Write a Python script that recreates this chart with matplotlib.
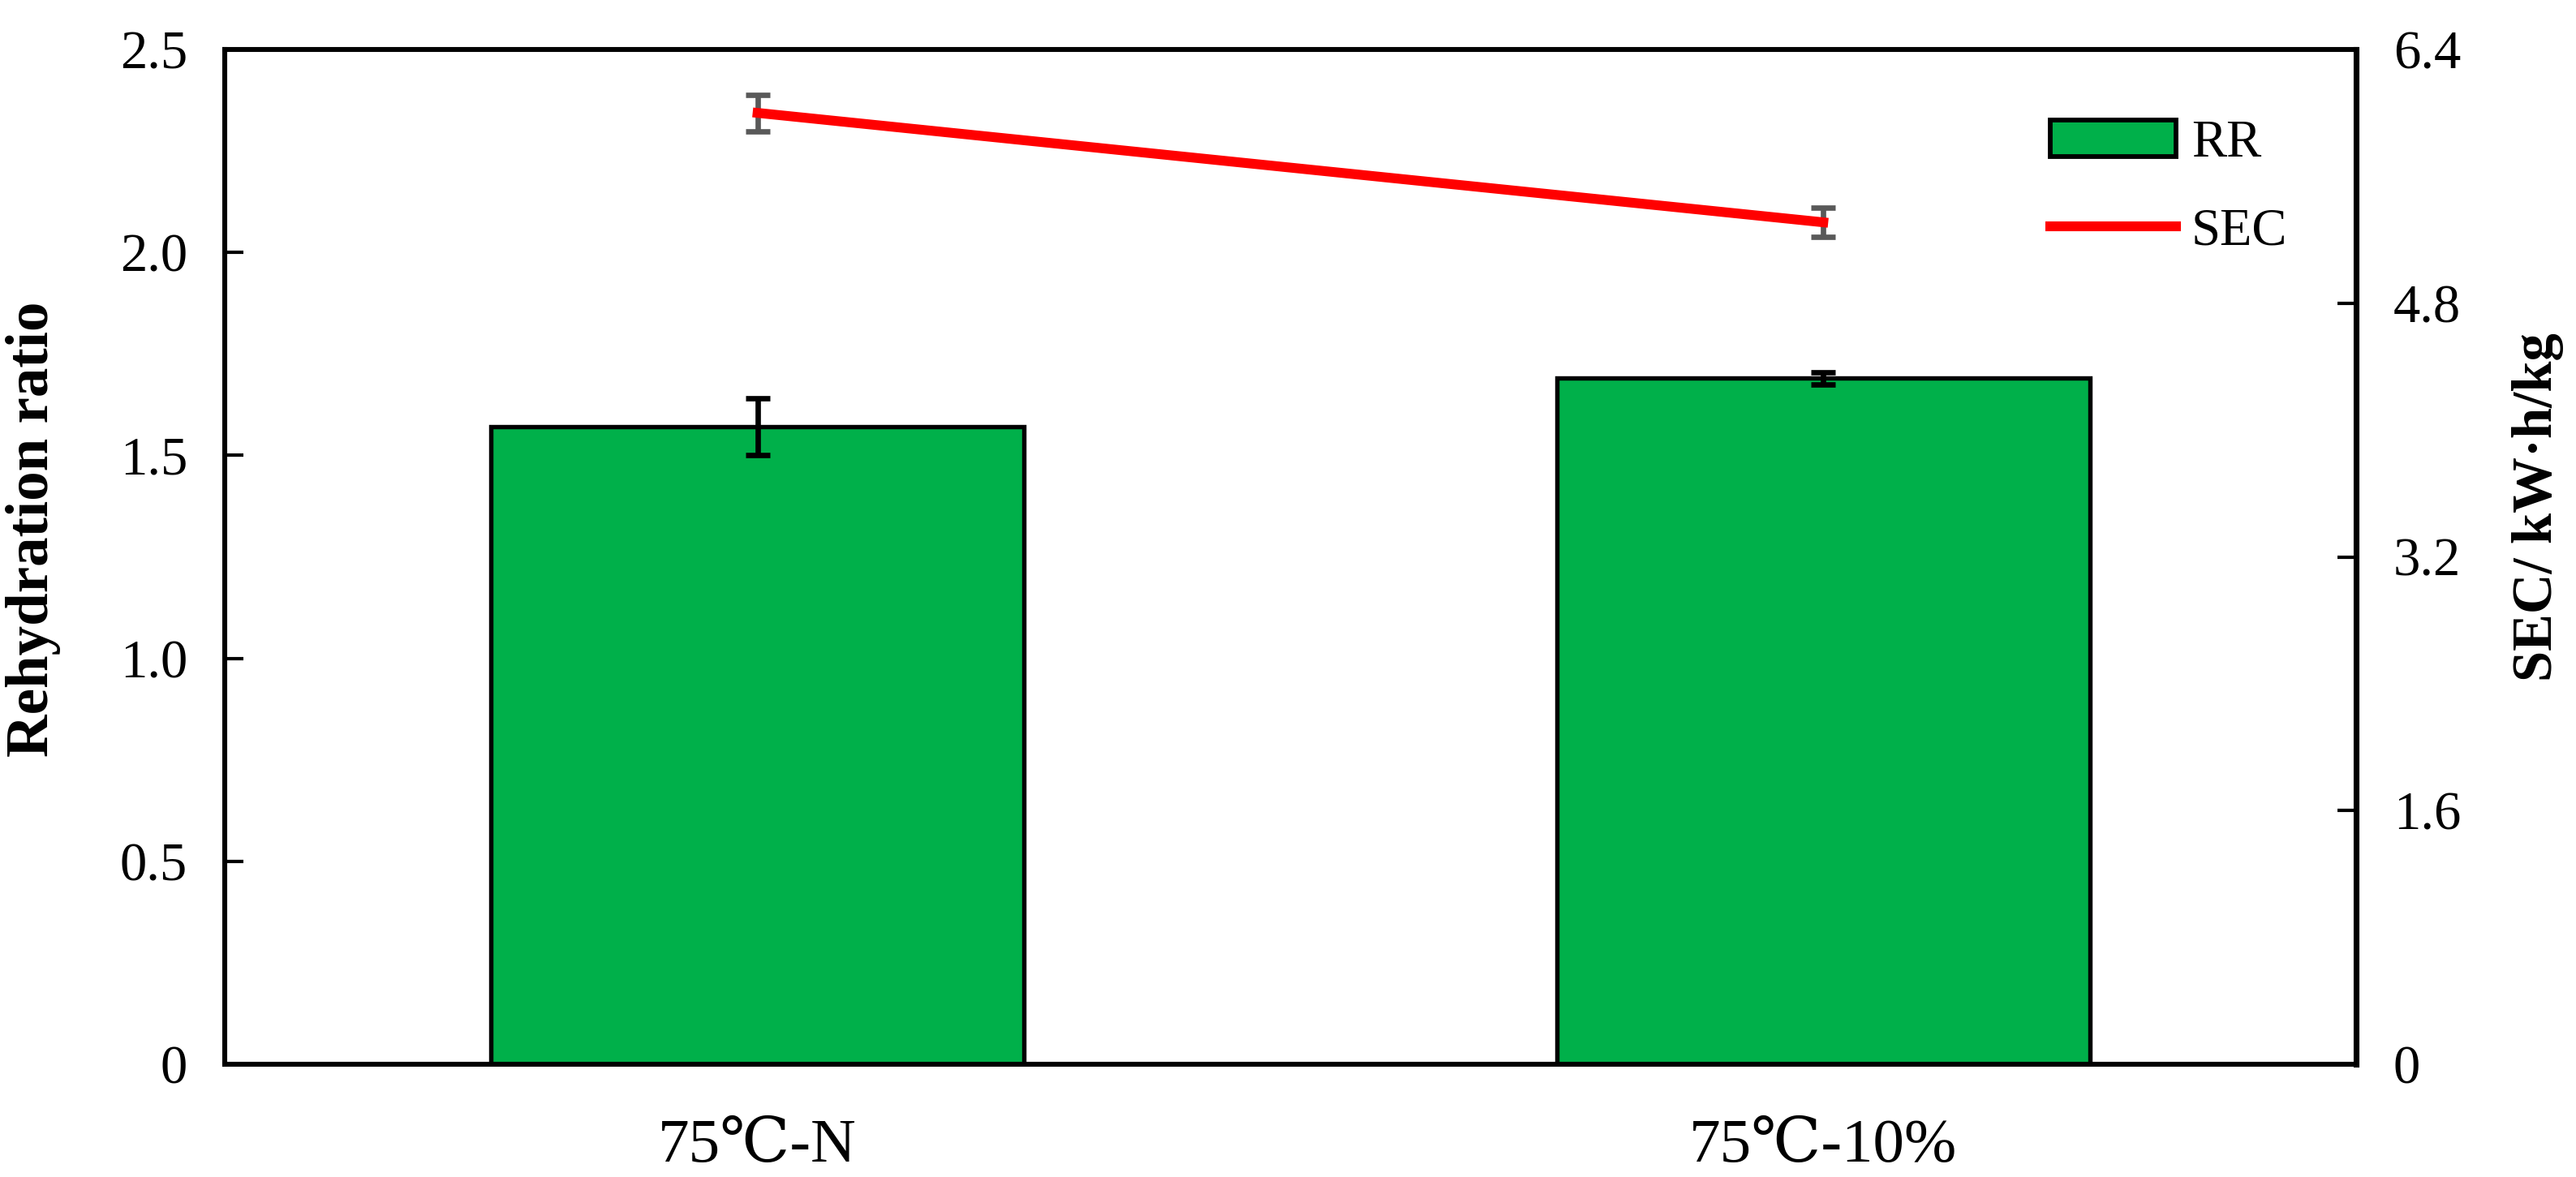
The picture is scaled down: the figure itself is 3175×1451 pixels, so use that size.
import matplotlib
matplotlib.use("Agg")
import matplotlib.pyplot as plt
import numpy as np

categories = ["75℃-N", "75℃-10%"]
rr_values = [1.57, 1.69]
rr_errors = [0.07, 0.015]
sec_values = [6.0, 5.31]
sec_errors = [0.115, 0.09]

plt.rcParams['font.family'] = ['Liberation Serif', 'DejaVu Serif']

fig = plt.figure(figsize=(3175/300, 1451/300), dpi=300)
ax = fig.add_axes([277/3175, 1 - 1312/1451, (2904-277)/3175, (1312-61)/1451])
x = np.arange(len(categories))

bars = ax.bar(x, rr_values, width=0.5, color='#00B04A', edgecolor='black', linewidth=1.3,
              label='RR', zorder=2)
ax.errorbar(x, rr_values, yerr=rr_errors, fmt='none', ecolor='black', elinewidth=1.6,
            capsize=3.7, capthick=1.6, zorder=3)
ax.set_xlim(-0.5, 1.5)
ax.set_ylim(0, 2.5)
ax.set_yticks([0, 0.5, 1.0, 1.5, 2.0, 2.5])
ax.set_yticklabels(['0', '0.5', '1.0', '1.5', '2.0', '2.5'])
ax.set_xticks(x)
ax.set_xticklabels(categories, fontsize=18.5)
ax.tick_params(axis='x', length=0, pad=16)
ax.tick_params(axis='y', direction='in', length=5.5, width=1.0, labelsize=16, pad=11)
ax.set_ylabel('Rehydration ratio', fontsize=17.5, fontweight='bold')
ax.yaxis.set_label_coords(-0.077, 0.527)
for s in ax.spines.values():
    s.set_linewidth(1.45)

ax2 = ax.twinx()
line, = ax2.plot(x, sec_values, color='#FF0000', linewidth=2.9, label='SEC', zorder=4)
ax2.errorbar(x, sec_values, yerr=sec_errors, fmt='none', ecolor='#595959', elinewidth=1.6,
             capsize=3.7, capthick=1.6, zorder=3)
ax2.set_ylim(0, 6.4)
ax2.set_yticks([0, 1.6, 3.2, 4.8, 6.4])
ax2.set_yticklabels(['0', '1.6', '3.2', '4.8', '6.4'])
ax2.tick_params(axis='y', direction='in', length=5.5, width=1.0, labelsize=16, pad=11)
ax2.set_ylabel('SEC/ kW·h/kg', fontsize=16.5, fontweight='bold', rotation=90)
ax2.yaxis.set_label_coords(1.073, 0.549)
for s in ax2.spines.values():
    s.set_linewidth(1.45)
ax2.spines['right'].set_linewidth(1.7)

leg = ax2.legend([bars, line], ['RR', 'SEC'], loc='upper right',
                 bbox_to_anchor=(0.99, 0.977), frameon=False, fontsize=15.5,
                 handlelength=2.4, handleheight=0.7, labelspacing=0.75, handletextpad=0.3)
for h in leg.legend_handles:
    if h.__class__.__name__ == 'Rectangle':
        h.set_linewidth(1.4)

fig.savefig('out.png', dpi=300)
